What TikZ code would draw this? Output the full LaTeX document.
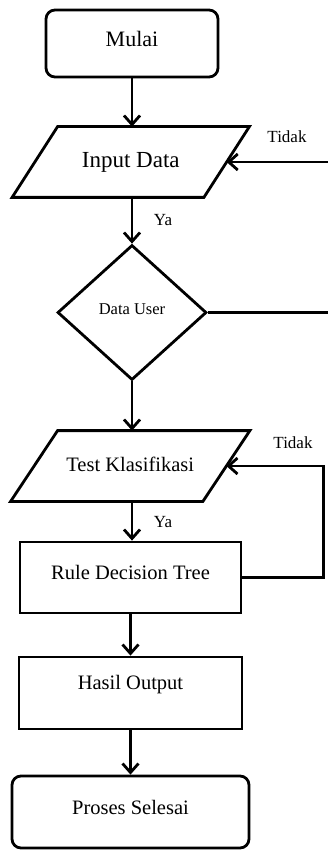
\documentclass[tikz,border=0pt]{standalone}
\usepackage{fontspec}
\setmainfont{Liberation Serif}
\usetikzlibrary{arrows.meta,shapes.geometric}
\begin{document}
\begin{tikzpicture}[x=1pt,y=-1pt,
  line width=2.8pt,
  conn/.style={-{Straight Barb[length=9pt,width=16pt]}},
  term/.style={draw,rounded corners=9pt,inner sep=0pt},
  proc/.style={draw,inner sep=0pt},
  lbl/.style={inner sep=0pt,font=\fontsize{17}{19}\selectfont},
  big/.style={font=\fontsize{22}{25}\selectfont},
  mid/.style={font=\fontsize{20.5}{23}\selectfont}
]
\useasboundingbox (0,0) rectangle (327,850);
% nodes
\node[term,minimum width=172pt,minimum height=67pt,
  label={[big,inner sep=0pt,yshift=4.5pt]center:Mulai}] (m) at (132,43.5) {};
\node[inner sep=0pt,minimum width=189pt,minimum height=68pt,
  font=\fontsize{23}{25}\selectfont] (in) at (130.75,162) {\raisebox{2pt}{Input Data}};
\draw ([xshift=22.75pt]in.north west) -- ([xshift=22.75pt]in.north east)
  -- ([xshift=-22.75pt]in.south east) -- ([xshift=-22.75pt]in.south west) -- cycle;
\node[diamond,draw,inner sep=0pt,minimum width=149pt,minimum height=135pt,
  label={[inner sep=0pt,font=\fontsize{16.5}{18}\selectfont,yshift=3.5pt]center:Data User}] (d) at (132,312.5) {};
\node[inner sep=0pt,minimum width=189.5pt,minimum height=68pt,
  font=\fontsize{20.5}{23}\selectfont] (tk) at (130.25,466) {\raisebox{4pt}{Test Klasifikasi}};
\draw ([xshift=23.5pt]tk.north west) -- ([xshift=23.5pt]tk.north east)
  -- ([xshift=-23.5pt]tk.south east) -- ([xshift=-23.5pt]tk.south west) -- cycle;
\node[proc,minimum width=221pt,minimum height=71pt,
  label={[mid,inner sep=0pt,yshift=5.5pt]center:Rule Decision Tree}] (rule) at (130.5,577.5) {};
\node[proc,minimum width=223pt,minimum height=72pt,
  label={[mid,inner sep=0pt,yshift=8pt]center:Hasil Output}] (hasil) at (130.5,693) {};
\node[term,minimum width=237pt,minimum height=72pt,
  label={[mid,inner sep=0pt,yshift=5pt]center:Proses Selesai}] (proses) at (130.5,812) {};
% labels
\node[lbl] (t1) at (287,137) {Tidak};
\node[lbl] (t2) at (293,443) {Tidak};
\node[lbl] (y1) at (163,220) {Ya};
\node[lbl] (y2) at (163,522) {Ya};
\coordinate (r1) at (328,162);
\coordinate (r2) at (328,312.5);
% connectors
\draw[conn] (m.south) -- (in.north -| m.south);
\draw[conn] (in.south -| m.south) -- (d.north);
\draw[conn] (d.south) -- (tk.north -| d.south);
\draw[conn] (tk.south -| d.south) -- (rule.north -| d.south);
\draw[conn] (rule.south) -- (hasil.north);
\draw[conn] (hasil.south) -- (proses.north);
\draw (d.east) -- (r2);
\draw[conn] (r1) -- (in.east);
\draw[conn] (rule.east) -- ++(81,0) |- (tk.east);
\end{tikzpicture}
\end{document}
